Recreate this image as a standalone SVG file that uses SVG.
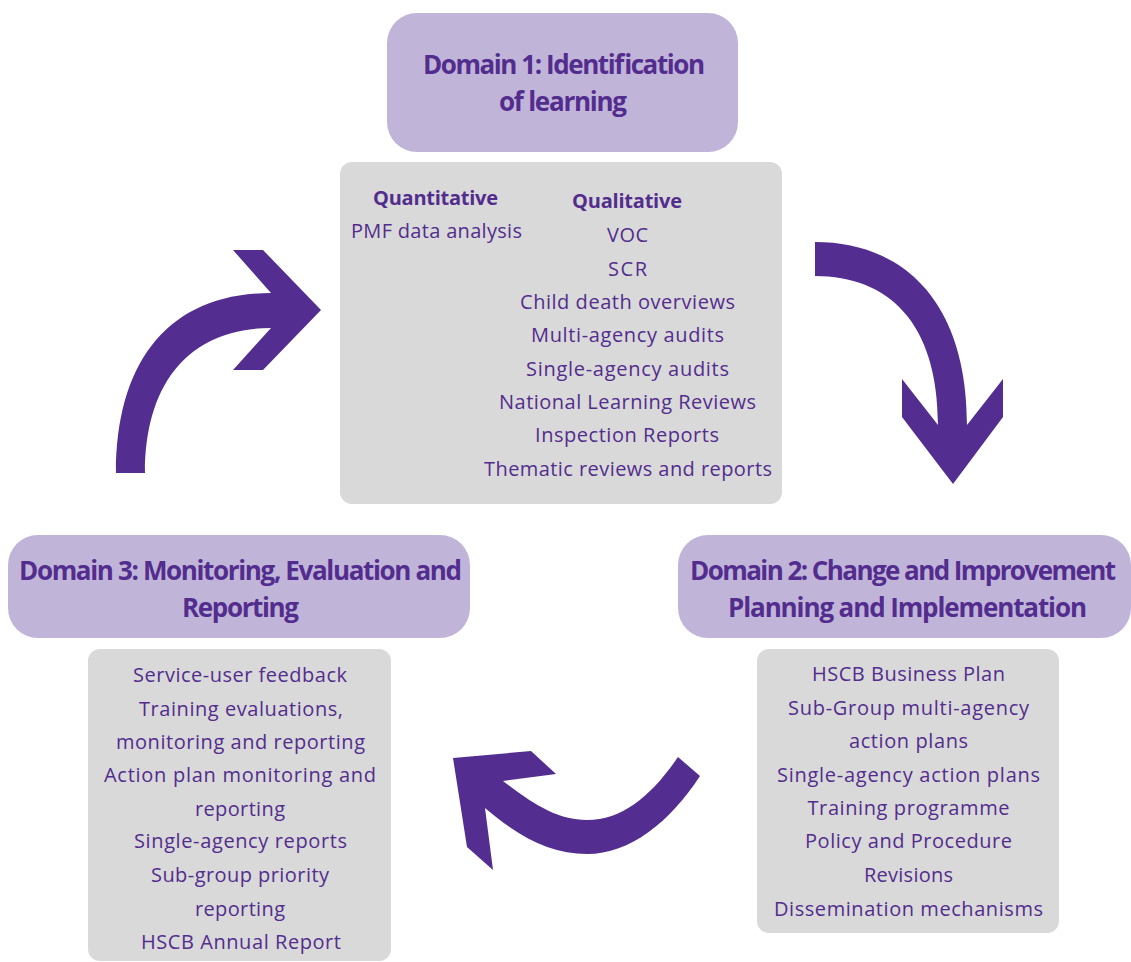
<svg xmlns="http://www.w3.org/2000/svg" width="1131" height="962" viewBox="0 0 1131 962">
  <style>
    .domain { fill: #c1b4d9; }
    .list { fill: #d9d9d9; }
    .arrow { fill: #532d8f; }
    text { font-family: "Open Sans", "Liberation Sans", sans-serif; fill: #532d8e; text-anchor: middle; }
    .title { font-size: 26px; font-weight: 700; }
    .head { font-size: 20px; font-weight: 700; }
    .item { font-size: 20px; font-weight: 400; }
  </style>

  <rect width="1131" height="962" fill="#ffffff"/>

  <!-- cycle arrows -->
  <g id="connectors">
    <path class="arrow" d="M116,473 C116,360 170,293 271,293 L233,250 L263,250 L321,310 L263,370 L233,370 L271,328 C192,328 145,380 145,473 Z"/>
    <path class="arrow" d="M815,242 C902,242 967,300 967,425 L1003,379 L1003,417 L953,484 L902,417 L902,379 L938,425 C938,322 888,276 815,276 Z"/>
    <path class="arrow" d="M485,808 C520,838 552,854 587,854 C630,854 670,822 700,776 L678,757 C652,795 623,820 587,820 C558,820 534,805 503,781 L556,774 L531,751 L453,758 L467,847 L493,870 Z"/>
  </g>

  <!-- Domain 1 -->
  <g id="domain1">
    <rect class="domain" x="387" y="13" width="351" height="139" rx="30"/>
    <text class="title" x="564" y="74" textLength="282" lengthAdjust="spacing">Domain 1: Identification</text>
    <text class="title" x="563" y="111" textLength="128" lengthAdjust="spacing">of learning</text>
  </g>
  <g id="domain1-sources">
    <rect class="list" x="340" y="162" width="442" height="342" rx="12"/>
    <text class="head" x="435.5" y="205" textLength="125" lengthAdjust="spacing">Quantitative</text>
    <text class="item" x="436.5" y="238" textLength="171" lengthAdjust="spacing">PMF data analysis</text>
    <text class="head" x="627" y="208" textLength="110" lengthAdjust="spacing">Qualitative</text>
    <text class="item" x="627.5" y="242" textLength="41" lengthAdjust="spacing">VOC</text>
    <text class="item" x="627.5" y="275.5" textLength="39" lengthAdjust="spacing">SCR</text>
    <text class="item" x="627.5" y="309" textLength="215" lengthAdjust="spacing">Child death overviews</text>
    <text class="item" x="627.5" y="342" textLength="193" lengthAdjust="spacing">Multi-agency audits</text>
    <text class="item" x="627.5" y="375.5" textLength="203" lengthAdjust="spacing">Single-agency audits</text>
    <text class="item" x="627.5" y="408.5" textLength="257" lengthAdjust="spacing">National Learning Reviews</text>
    <text class="item" x="627" y="442" textLength="184" lengthAdjust="spacing">Inspection Reports</text>
    <text class="item" x="628" y="475.5" textLength="288" lengthAdjust="spacing">Thematic reviews and reports</text>
  </g>

  <!-- Domain 2 -->
  <g id="domain2">
    <rect class="domain" x="678" y="535" width="453" height="103" rx="30"/>
    <text class="title" x="903" y="580" textLength="426" lengthAdjust="spacing">Domain 2: Change and Improvement</text>
    <text class="title" x="907.5" y="617" textLength="359" lengthAdjust="spacing">Planning and Implementation</text>
  </g>
  <g id="domain2-actions">
    <rect class="list" x="757" y="649" width="302" height="284" rx="12"/>
    <text class="item" x="908.5" y="681" textLength="193" lengthAdjust="spacing">HSCB Business Plan</text>
    <text class="item" x="908.5" y="714.5" textLength="241" lengthAdjust="spacing">Sub-Group multi-agency</text>
    <text class="item" x="908.5" y="748" textLength="119" lengthAdjust="spacing">action plans</text>
    <text class="item" x="908.5" y="781.5" textLength="263" lengthAdjust="spacing">Single-agency action plans</text>
    <text class="item" x="908.5" y="815" textLength="202" lengthAdjust="spacing">Training programme</text>
    <text class="item" x="908.5" y="848" textLength="207" lengthAdjust="spacing">Policy and Procedure</text>
    <text class="item" x="908.5" y="882" textLength="89" lengthAdjust="spacing">Revisions</text>
    <text class="item" x="908.5" y="916" textLength="269" lengthAdjust="spacing">Dissemination mechanisms</text>
  </g>

  <!-- Domain 3 -->
  <g id="domain3">
    <rect class="domain" x="8" y="535" width="462" height="103" rx="30"/>
    <text class="title" x="240.5" y="580" textLength="443" lengthAdjust="spacing">Domain 3: Monitoring, Evaluation and</text>
    <text class="title" x="240.5" y="617" textLength="117" lengthAdjust="spacing">Reporting</text>
  </g>
  <g id="domain3-evidence">
    <rect class="list" x="88" y="649" width="303" height="312" rx="12"/>
    <text class="item" x="240" y="682" textLength="214" lengthAdjust="spacing">Service-user feedback</text>
    <text class="item" x="241" y="715.5" textLength="204" lengthAdjust="spacing">Training evaluations,</text>
    <text class="item" x="240.5" y="749" textLength="249" lengthAdjust="spacing">monitoring and reporting</text>
    <text class="item" x="240" y="782" textLength="272" lengthAdjust="spacing">Action plan monitoring and</text>
    <text class="item" x="240" y="815.5" textLength="90" lengthAdjust="spacing">reporting</text>
    <text class="item" x="240.5" y="848" textLength="213" lengthAdjust="spacing">Single-agency reports</text>
    <text class="item" x="240" y="882" textLength="178" lengthAdjust="spacing">Sub-group priority</text>
    <text class="item" x="240" y="915.5" textLength="90" lengthAdjust="spacing">reporting</text>
    <text class="item" x="241" y="949" textLength="200" lengthAdjust="spacing">HSCB Annual Report</text>
  </g>
</svg>
